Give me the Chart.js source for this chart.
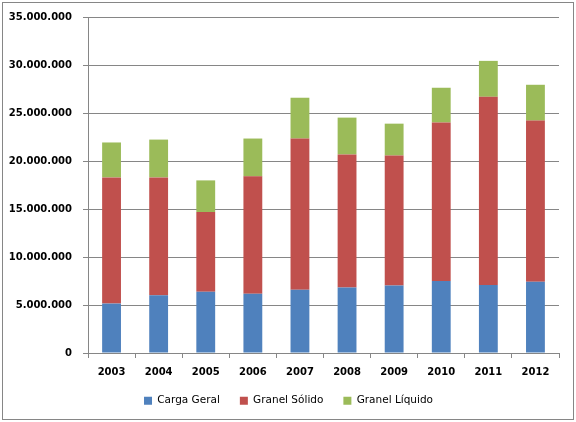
<!DOCTYPE html>
<html lang="pt-br">
<head>
  <meta charset="UTF-8" />
  <title>Carga movimentada 2003-2012</title>
  <script src="https://cdn.jsdelivr.net/npm/chart.js"></script>
  <style>
    * {
      box-sizing: border-box;
      margin: 0;
      padding: 0;
    }

    body {
      background-color: #fff;
      width: 576px;
      height: 422px;
      overflow: hidden;
      position: relative;
    }

    .moldura {
      position: absolute;
      left: 2px;
      top: 2px;
      width: 572px;
      height: 418px;
      border: 1px solid #868686;
    }

    canvas {
      position: absolute;
      left: 0;
      top: 0;
    }
  </style>
</head>
<body>
  <div class="moldura"></div>
  <canvas id="grafico" width="576" height="422"></canvas>

<script>
  const anos = ["2003", "2004", "2005", "2006", "2007", "2008", "2009", "2010", "2011", "2012"];
  const cargaGeral   = [5150000, 6020000, 6390000, 6180000, 6600000, 6810000, 7020000, 7500000, 7090000, 7430000];
  const granelSolido = [13140000, 12270000, 8300000, 12220000, 15740000, 13870000, 13550000, 16510000, 19600000, 16780000];
  const granelLiquido = [3640000, 3940000, 3290000, 3940000, 4250000, 3840000, 3320000, 3620000, 3740000, 3730000];
  const eixoY = { min: 0, max: 35000000, passo: 5000000 };

  const cinza = "#868686";
  const fonte = "'DejaVu Sans', Verdana, sans-serif";

  function formatarValor(valor) {
    return String(Math.round(valor)).replace(/\B(?=(\d{3})+(?!\d))/g, ".");
  }

  function serie(nome, dados, cor) {
    return {
      label: nome,
      data: dados,
      backgroundColor: cor,
      borderWidth: 0,
      barPercentage: 0.4,
      categoryPercentage: 1.0,
    };
  }

  // centraliza a legenda na largura toda do quadro (o padding direito a puxava p/ esquerda)
  const centrarLegenda = {
    id: "centrarLegenda",
    afterLayout(chart) {
      chart.legend.left += 18;
    },
  };

  const ctx = document.getElementById("grafico").getContext("2d");
  new Chart(ctx, {
    type: "bar",
    data: {
      labels: anos,
      datasets: [
        serie("Carga Geral", cargaGeral, "#4F81BD"),
        serie("Granel Sólido", granelSolido, "#C0504D"),
        serie("Granel Líquido", granelLiquido, "#9BBB59"),
      ],
    },
    plugins: [centrarLegenda],
    options: {
      responsive: false,
      animation: false,
      layout: {
        padding: { left: 0, right: 17, top: 16, bottom: 6 },
      },
      plugins: {
        tooltip: { enabled: false },
        legend: {
          position: "bottom",
          labels: {
            boxWidth: 8,
            boxHeight: 8,
            padding: 20,
            color: "#000",
            font: { family: fonte, size: 10.5 },
          },
        },
      },
      scales: {
        x: {
          stacked: true,
          afterFit: (escala) => { escala.height = 22.5; },
          border: { color: cinza, width: 1 },
          grid: {
            offset: true,
            drawOnChartArea: false,
            drawTicks: true,
            tickLength: 5,
            color: cinza,
          },
          ticks: {
            padding: 8,
            color: "#000",
            font: { family: fonte, size: 10, weight: "bold" },
          },
        },
        y: {
          stacked: true,
          min: eixoY.min,
          max: eixoY.max,
          afterFit: (escala) => { escala.width = 88; },
          border: { color: cinza, width: 1 },
          grid: {
            color: cinza,
            tickLength: 5,
          },
          ticks: {
            stepSize: eixoY.passo,
            padding: 11,
            color: "#000",
            font: { family: fonte, size: 10, weight: "bold" },
            callback: (valor) => formatarValor(valor),
          },
        },
      },
    },
  });
</script>
</body>
</html>
